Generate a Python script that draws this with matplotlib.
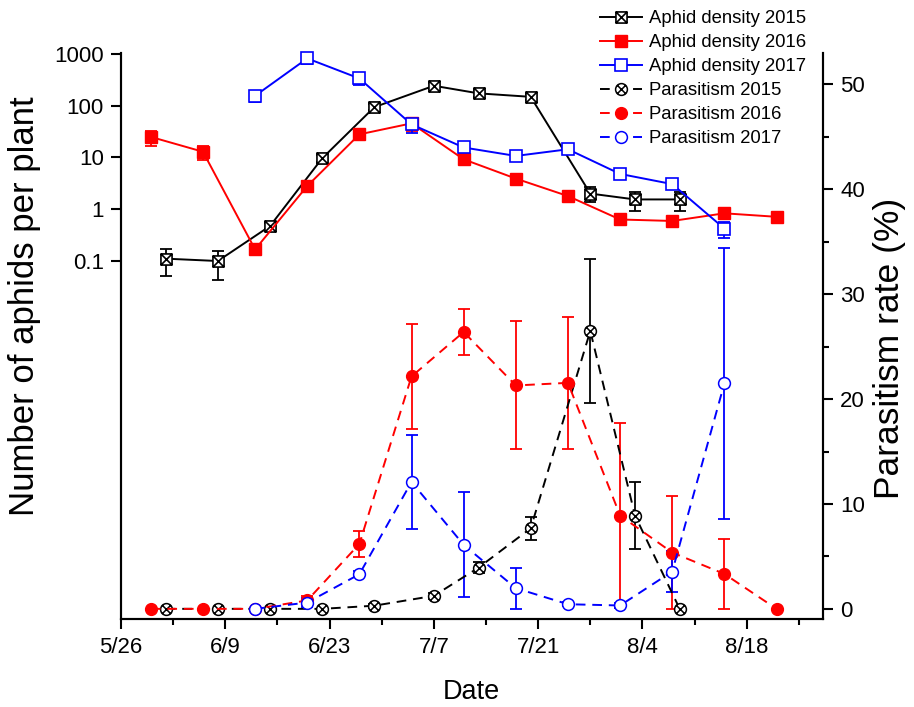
"""Aphid density (log, left) and parasitism rate (right) through the season, 2015-2017."""
from datetime import date

import matplotlib
matplotlib.use('Agg')
import matplotlib.pyplot as plt
from matplotlib.path import Path
from matplotlib.ticker import MultipleLocator, NullLocator

plt.rcParams['font.family'] = ['Liberation Sans', 'DejaVu Sans']

# --- data (mean and SE) ---
dens15_dates = ['6/1', '6/8', '6/15', '6/22', '6/29', '7/7', '7/13', '7/20',
                '7/28', '8/3', '8/9']
dens15 = [0.11, 0.099, 0.47, 9.6, 94, 244, 174, 149, 2.0, 1.54, 1.54]
dens15_se = [0.06, 0.057, 0.06, 1.5, 12, 30, 25, 20, 0.65, 0.63, 0.6]

dens16_dates = ['5/30', '6/6', '6/13', '6/20', '6/27', '7/4', '7/11', '7/18',
                '7/25', '8/1', '8/8', '8/15', '8/22']
dens16 = [25, 12.9, 0.166, 2.8, 28, 45.7, 9.2, 3.9, 1.79, 0.63, 0.59, 0.83, 0.71]
dens16_se = [8, 4, 0.02, 0.3, 3, 13, 1, 0.4, 0.2, 0.08, 0.06, 0.1, 0.06]

dens17_dates = ['6/13', '6/20', '6/27', '7/4', '7/11', '7/18', '7/25', '8/1',
                '8/8', '8/15']
dens17 = [156, 826, 338, 43.7, 15.6, 10.7, 14.4, 4.8, 3.05, 0.42]
dens17_se = [40, 180, 80, 14, 2, 2.2, 2, 1.0, 0.5, 0.14]

para15 = [0, 0, 0, 0, 0.3, 1.24, 3.93, 7.68, 26.5, 8.9, 0]
para15_se = [0, 0, 0, 0, 0.2, 0.3, 0.5, 1.1, 6.85, 3.2, 0]

para16 = [0, 0, 0, 0.8, 6.19, 22.16, 26.4, 21.3, 21.55, 8.9, 5.37, 3.33, 0]
para16_se = [0, 0, 0, 0.4, 1.2, 5.0, 2.2, 6.1, 6.3, 8.8, 5.4, 3.34, 0]

para17 = [0, 0.6, 3.3, 12.1, 6.1, 1.97, 0.44, 0.32, 3.56, 21.5]
para17_se = [0, 0.4, 0.3, 4.5, 5.0, 1.96, 0.2, 0.2, 1.95, 12.9]

xtick_labels = ['5/26', '6/9', '6/23', '7/7', '7/21', '8/4', '8/18']
ytick_left = [0.1, 1, 10, 100, 1000]
ytick_left_labels = ['0.1', '1', '10', '100', '1000']


def day(s):
    """Days after 26 May for an 'm/d' string."""
    m, d = (int(v) for v in s.split('/'))
    return (date(2000, m, d) - date(2000, 5, 26)).days


x15 = [day(s) for s in dens15_dates]
x16 = [day(s) for s in dens16_dates]
x17 = [day(s) for s in dens17_dates]

# square / circle markers with a cross inside
L, M = Path.LINETO, Path.MOVETO
sq_x = Path([(-1, -1), (1, -1), (1, 1), (-1, 1), (-1, -1),
             (-1, -1), (1, 1), (-1, 1), (1, -1)],
            [M, L, L, L, Path.CLOSEPOLY, M, L, M, L])
c = 0.7071
circ_x = Path.make_compound_path(Path.unit_circle(),
                                 Path([(-c, -c), (c, c)]),
                                 Path([(-c, c), (c, -c)]))

fig = plt.figure(figsize=(9.14, 7.07), dpi=100)
ax = fig.add_axes([0.1324, 0.124, 0.9001 - 0.1324, 0.925 - 0.124])
ax2 = ax.twinx()

lw = 1.4
dash = (5, 3.5)
ekw = dict(fmt='none', capsize=4.5, elinewidth=1.3, capthick=1.3, zorder=1)
pkw = dict(lw=lw, clip_on=False, zorder=2)

# aphid density, left log axis
ax.errorbar(x15, dens15, yerr=dens15_se, ecolor='black', **ekw)
ax.errorbar(x16, dens16, yerr=dens16_se, ecolor='red', **ekw)
ax.errorbar(x17, dens17, yerr=dens17_se, ecolor='blue', **ekw)
h1, = ax.plot(x15, dens15, color='black', marker=sq_x, ms=8,
              mfc='white', mec='black', mew=1.2, label='Aphid density 2015', **pkw)
h2, = ax.plot(x16, dens16, color='red', marker='s', ms=8,
              mfc='red', mec='red', label='Aphid density 2016', **pkw)
h3, = ax.plot(x17, dens17, color='blue', marker='s', ms=8,
              mfc='white', mec='blue', mew=1.2, label='Aphid density 2017', **pkw)

# parasitism, right linear axis
ax2.errorbar(x15, para15, yerr=para15_se, ecolor='black', **ekw)
ax2.errorbar(x16, para16, yerr=para16_se, ecolor='red', **ekw)
ax2.errorbar(x17, para17, yerr=para17_se, ecolor='blue', **ekw)
h4, = ax2.plot(x15, para15, color='black', dashes=dash, marker=circ_x,
               ms=8.5, mfc='white', mec='black', mew=1.1,
               label='Parasitism 2015', **pkw)
h5, = ax2.plot(x16, para16, color='red', dashes=dash, marker='o',
               ms=8.5, mfc='red', mec='red', label='Parasitism 2016', **pkw)
h6, = ax2.plot(x17, para17, color='blue', dashes=dash, marker='o',
               ms=8.5, mfc='white', mec='blue', mew=1.1,
               label='Parasitism 2017', **pkw)

ax.set_yscale('log')
ax.set_ylim(1.15e-8, 1050)
ax.set_yticks(ytick_left)
ax.set_yticklabels(ytick_left_labels)
ax.yaxis.set_minor_locator(NullLocator())

ax.set_xlim(0, 94.2)
ax.set_xticks([day(s) for s in xtick_labels])
ax.set_xticklabels(xtick_labels)
ax.xaxis.set_minor_locator(MultipleLocator(7))

ax2.set_ylim(-1, 53)
ax2.set_yticks(range(0, 51, 10))
ax2.yaxis.set_minor_locator(MultipleLocator(5))

for a in (ax, ax2):
    a.spines['top'].set_visible(False)
    for s in a.spines.values():
        s.set_linewidth(1.5)
    a.tick_params(which='major', direction='out', length=7.5, width=1.5,
                  labelsize=16, pad=5)
    a.tick_params(which='minor', direction='out', length=4.5, width=1.5)

ax.set_xlabel('Date', fontsize=19.5)
ax.xaxis.set_label_coords(0.5, -0.106)
ax.set_ylabel('Number of aphids per plant', fontsize=25)
ax.yaxis.set_label_coords(-0.114, 0.553)
ax2.set_ylabel('Parasitism rate (%)', fontsize=25.5)
ax2.yaxis.set_label_coords(1.072, 0.479)

fig.legend([h1, h2, h3, h4, h5, h6],
           [h.get_label() for h in (h1, h2, h3, h4, h5, h6)],
           loc='upper left', bbox_to_anchor=(600 / 914, 1 - 10 / 707),
           frameon=False, fontsize=13.3, handlelength=2.3, handletextpad=0.35,
           labelspacing=0.38, borderpad=0, borderaxespad=0)

fig.savefig('out.png', dpi=100)
